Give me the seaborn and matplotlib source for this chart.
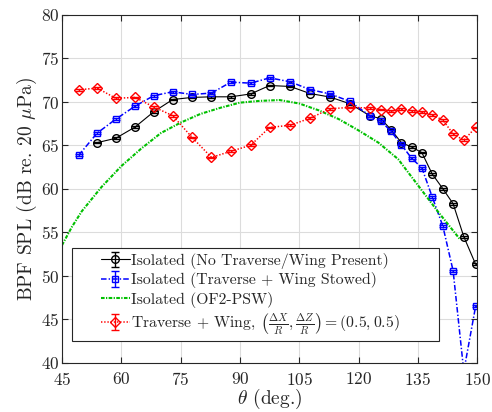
import numpy as np
import pandas as pd
import matplotlib
matplotlib.use("Agg")
import matplotlib.pyplot as plt
import seaborn as sns
from matplotlib.legend_handler import HandlerTuple

# ---------------- data ----------------
theta_all = [49.2, 53.9, 58.6, 63.5, 68.2, 73.0, 77.9, 82.8, 87.7, 92.7, 97.5,
             102.7, 107.7, 112.8, 117.8, 122.8, 125.6, 128.2, 130.8, 133.4,
             136.0, 138.6, 141.3, 143.9, 146.6, 149.6]
theta_iso = theta_all[1:]

spl_iso = [65.3, 65.8, 67.1, 68.85, 70.26, 70.5, 70.57, 70.57, 70.9, 71.87,
           71.76, 70.95, 70.54, 69.77, 68.4, 68.05, 66.8, 65.3, 64.8, 64.15,
           61.7, 60.0, 58.27, 54.48, 51.3]

spl_stowed = [63.84, 66.4, 68.0, 69.5, 70.7, 71.15, 70.84, 71.0, 72.26, 72.14,
              72.75, 72.3, 71.4, 70.9, 70.04, 68.4, 67.8, 66.6, 65.07, 63.5,
              62.4, 59.07, 55.7, 50.55, 39.0, 46.5]

spl_wing = [71.38, 71.57, 70.4, 70.5, 69.4, 68.4, 65.9, 63.6, 64.3, 65.0,
            67.05, 67.3, 68.1, 69.2, 69.35, 69.28, 69.1, 68.9, 69.16, 68.97,
            68.8, 68.5, 67.9, 66.3, 65.57, 67.05]

theta_psw = [45, 47.5, 50, 55, 60, 65, 70, 75, 80, 85, 90, 95, 100, 105, 110,
             115, 120, 125, 130, 135, 140, 145.6]
spl_psw = [53.5, 55.6, 57.4, 60.2, 62.6, 64.6, 66.4, 67.6, 68.6, 69.3, 69.9,
           70.1, 70.2, 69.8, 69.0, 68.0, 66.7, 65.3, 63.4, 60.4, 57.4, 54.2]

err_small = 0.1

labels = ["Isolated (No Traverse/Wing Present)",
          "Isolated (Traverse + Wing Stowed)",
          "Isolated (OF2-PSW)",
          r"Traverse + Wing, $\left(\frac{\Delta X}{R}, \frac{\Delta Z}{R}\right) = (0.5, 0.5)$"]

# ---------------- style ----------------
sns.set_theme(style="whitegrid")
plt.rcParams['font.family'] = ['cmr10']
plt.rcParams['mathtext.fontset'] = 'cm'
plt.rcParams['axes.formatter.use_mathtext'] = True
plt.rcParams['text.color'] = '#262626'
plt.rcParams['lines.scale_dashes'] = False

fig = plt.figure(figsize=(4.92, 4.12), dpi=100)
ax = fig.add_axes([0.126, 0.120, 0.844, 0.844])


def series(x, y, color, dashes, marker, ms, lw, err=True):
    sns.lineplot(x=x, y=y, ax=ax, color=color, marker=marker,
                 markersize=ms, markerfacecolor='none', markeredgecolor=color,
                 markeredgewidth=1.0, linewidth=lw, errorbar=None, sort=False,
                 legend=False)
    line = ax.lines[-1]
    if dashes is not None:
        line.set_dashes(dashes)
    if err:
        eb = ax.errorbar(x, y, yerr=err_small, fmt='none', ecolor=color,
                         elinewidth=1.0, capsize=3, capthick=1.0)
        return (line, eb)
    return (line,)

h1 = series(theta_iso, spl_iso, 'black', None, 'o', 5.5, 0.8)
h2 = series(theta_all, spl_stowed, '#0000ff', [4, 1.5, 1, 1.5], 's', 5, 1.1)
h3 = series(theta_psw, spl_psw, '#00c000', [2.6, 1.0, 0.9, 1.0], None, 0, 1.5,
            err=False)
h4 = series(theta_all, spl_wing, '#ff0000', [1, 1.3], 'D', 5.5, 1.1)

ax.set_xlim(45, 150)
ax.set_ylim(40, 80)
ax.set_xticks([45, 60, 75, 90, 105, 120, 135, 150])
ax.set_yticks([40, 45, 50, 55, 60, 65, 70, 75, 80])
ax.grid(True, color='#dcdcdc', linewidth=0.8)
for s in ax.spines.values():
    s.set_color('#262626')
    s.set_linewidth(0.8)
ax.tick_params(direction='in', length=4, width=0.8, colors='#262626',
               labelsize=12.5, top=True, right=True, bottom=True, left=True)
ax.tick_params(axis='x', pad=6)
ax.tick_params(axis='y', pad=2)
ax.set_xlabel(r'$\theta$ (deg.)', fontsize=14, labelpad=-1)
ax.set_ylabel(r'BPF SPL (dB re. 20 $\mu$Pa)', fontsize=14, labelpad=1)


class ShiftHandler(HandlerTuple):
    def __init__(self, shift=0.0, **kw):
        super().__init__(ndivide=1, pad=0, **kw)
        self.shift = shift

    def create_artists(self, legend, orig_handle, xdescent, ydescent, width,
                       height, fontsize, trans):
        s = self.shift * fontsize
        return super().create_artists(legend, orig_handle, xdescent - s,
                                      ydescent, width - s, height, fontsize,
                                      trans)

hs = [h1, h2, h3, h4]
leg = ax.legend(hs, labels, loc='lower left',
                bbox_to_anchor=(0.023, 0.062, 0.885, 0.2), mode='expand',
                borderaxespad=0, fontsize=11.3, frameon=True, fancybox=False,
                framealpha=1, edgecolor='#262626', handlelength=3.4,
                handletextpad=0.1, labelspacing=0.22, borderpad=0.3,
                handler_map={tuple: ShiftHandler(shift=1.6)})
leg.get_frame().set_linewidth(0.8)

fig.savefig('out.png', dpi=100)
